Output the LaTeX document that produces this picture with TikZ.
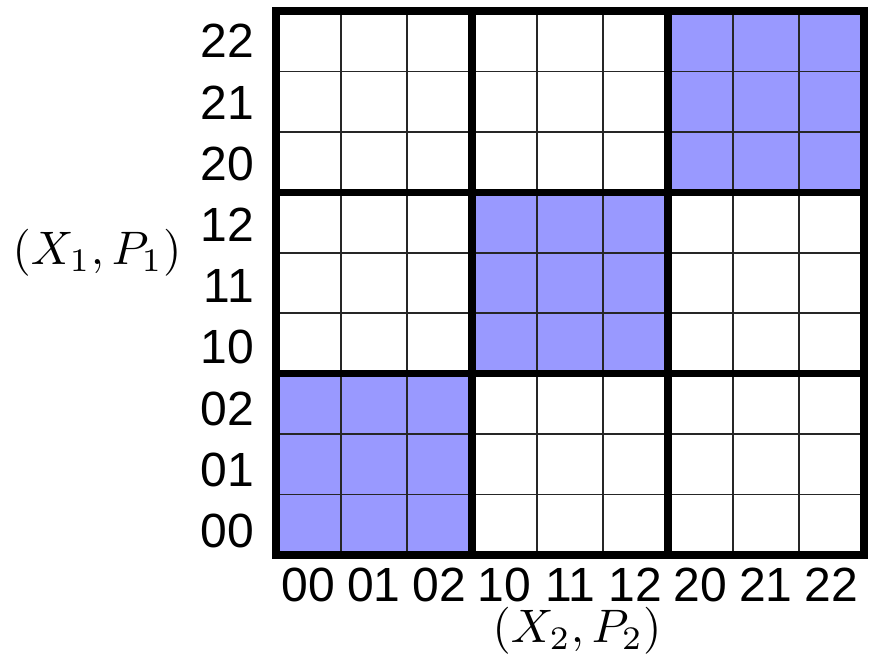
\documentclass[tikz,border=0pt]{standalone}
\usepackage{graphicx}
\usepackage[no-math]{fontspec}
\setmainfont{Liberation Sans}
\begin{document}
\begin{tikzpicture}[x=1pt,y=-1pt,
  cellfill/.style={fill=blocky, draw=none},
  thin grid/.style={draw=black!85, line width=1.7pt},
  thick grid/.style={draw=black, line width=7.5pt},
  digitlbl/.style={font=\fontsize{48}{48}\selectfont, inner sep=0pt},
  mathlbl/.style={inner sep=0pt}]
\definecolor{blocky}{HTML}{9999FF}
\useasboundingbox (0,0) rectangle (873,657);
\def\xo{276}\def\yo{11}\def\cw{65.333}\def\ch{60.444}
% filled diagonal blocks (block rows counted from bottom)
\foreach \b in {0,1,2}{
  \fill[cellfill] ({\xo+\b*3*\cw},{\yo+(2-\b)*3*\ch}) rectangle ({\xo+(\b+1)*3*\cw},{\yo+(3-\b)*3*\ch});
}
% thin grid lines
\foreach \i in {1,2,4,5,7,8}{
  \draw[thin grid] ({\xo+\i*\cw},\yo) -- ({\xo+\i*\cw},{\yo+9*\ch});
  \draw[thin grid] (\xo,{\yo+\i*\ch}) -- ({\xo+9*\cw},{\yo+\i*\ch});
}
% thick block lines
\foreach \i in {3,6}{
  \draw[thick grid] ({\xo+\i*\cw},\yo) -- ({\xo+\i*\cw},{\yo+9*\ch});
  \draw[thick grid] (\xo,{\yo+\i*\ch}) -- ({\xo+9*\cw},{\yo+\i*\ch});
}
\draw[thick grid] (\xo,\yo) rectangle ({\xo+9*\cw},{\yo+9*\ch});
% row labels (top to bottom)
\foreach \t [count=\k from 0] in {22,21,20,12,11,10,02,01,00}{
  \node[digitlbl, anchor=east] (r\k) at (254,{41+\k*61.25}) {\t};
}
% column labels
\foreach \t [count=\k from 0] in {00,01,02,10,11,12,20,21,22}{
  \node[digitlbl] (c\k) at ({\xo+(\k+0.5)*\cw},585) {\t};
}
\node[mathlbl] (ylab) at (97,253) {\scalebox{4.7}{$(X_1,P_1)$}};
\node[mathlbl] (xlab) at (577,631) {\scalebox{4.7}{$(X_2,P_2)$}};
\end{tikzpicture}
\end{document}
